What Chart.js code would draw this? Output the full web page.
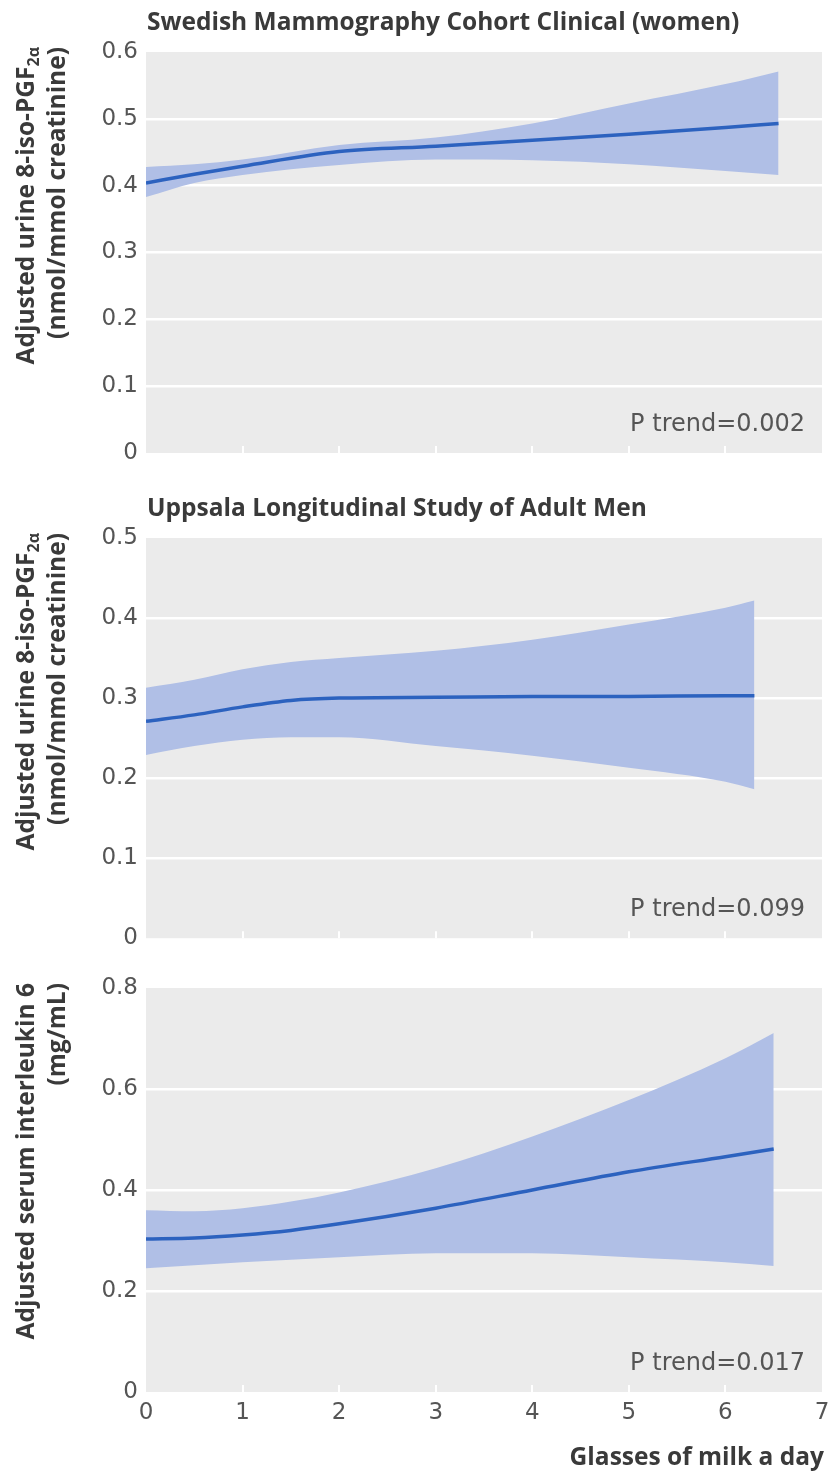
<!DOCTYPE html>
<html><head><meta charset="utf-8">
<script src="https://cdn.jsdelivr.net/npm/chart.js@4.4.1/dist/chart.umd.min.js"></script>
<style>
html,body{margin:0;padding:0;background:#fff;}
#wrap{position:relative;width:829px;height:1481px;overflow:hidden;}
canvas{position:absolute;left:0;}
</style></head><body>
<div id="wrap">
<canvas id="c1" width="829" height="480" style="top:0px"></canvas>
<canvas id="c2" width="829" height="480" style="top:480px"></canvas>
<canvas id="c3" width="829" height="521" style="top:960px"></canvas>
</div>
<script>
// ---- data ----
const xTickValues = [0, 1, 2, 3, 4, 5, 6, 7];
const xAxisTitle = "Glasses of milk a day";

// Panel 1: Swedish Mammography Cohort Clinical (women)
const smcTitle = "Swedish Mammography Cohort Clinical (women)";
const smcYTitle = ["Adjusted urine 8-iso-PGF", "2α", "(nmol/mmol creatinine)"];
const smcP = "P trend=0.002";
const smcX     = [0, 0.5, 1, 2, 3, 4, 5, 6, 6.55];
const smcFit   = [0.404, 0.417, 0.429, 0.451, 0.459, 0.468, 0.477, 0.487, 0.493];
const smcUpper = [0.428, 0.432, 0.439, 0.461, 0.472, 0.493, 0.523, 0.552, 0.571];
const smcLower = [0.383, 0.404, 0.416, 0.431, 0.439, 0.438, 0.432, 0.422, 0.416];

// Panel 2: Uppsala Longitudinal Study of Adult Men
const ulsamTitle = "Uppsala Longitudinal Study of Adult Men";
const ulsamYTitle = ["Adjusted urine 8-iso-PGF", "2α", "(nmol/mmol creatinine)"];
const ulsamP = "P trend=0.099";
const ulsamX     = [0, 0.5, 1, 1.5, 2, 3, 4, 5, 6, 6.3];
const ulsamFit   = [0.271, 0.279, 0.289, 0.297, 0.300, 0.301, 0.302, 0.302, 0.303, 0.303];
const ulsamUpper = [0.313, 0.323, 0.336, 0.345, 0.350, 0.359, 0.373, 0.392, 0.413, 0.422];
const ulsamLower = [0.229, 0.240, 0.248, 0.251, 0.251, 0.240, 0.228, 0.213, 0.1955, 0.186];

// Panel 3: interleukin 6
const il6YTitle = ["Adjusted serum interleukin 6", "", "(mg/mL)"];
const il6P = "P trend=0.017";
const il6X     = [0, 0.5, 1, 1.5, 2, 3, 4, 5, 6, 6.5];
const il6Fit   = [0.303, 0.305, 0.311, 0.320, 0.333, 0.364, 0.400, 0.436, 0.466, 0.481];
const il6Upper = [0.360, 0.358, 0.364, 0.377, 0.395, 0.443, 0.506, 0.578, 0.661, 0.711];
const il6Lower = [0.245, 0.251, 0.257, 0.262, 0.267, 0.275, 0.275, 0.267, 0.257, 0.2495];

// ---- styles ----
const BG = '#ebebeb';
const BAND = 'rgb(176,191,230)';
const LINE = '#2c62bf';
const TXT = '#3a3a3a';
const TICK = '#555555';
const TICK_FONT = '"DejaVu Sans", sans-serif';
const BOLD_FONT = '"Open Sans", "Noto Sans", sans-serif';

function pts(xs, ys) { return xs.map((x, i) => ({x: x, y: ys[i]})); }

const decorPlugin = {
  id: 'decor',
  beforeDraw(chart) {
    const a = chart.chartArea, ctx = chart.ctx;
    ctx.save();
    ctx.fillStyle = BG;
    ctx.fillRect(a.left, a.top, a.right - a.left, a.bottom - a.top);
    ctx.restore();
  },
  beforeDatasetsDraw(chart) {
    const a = chart.chartArea, ctx = chart.ctx, xs = chart.scales.x;
    ctx.save();
    ctx.strokeStyle = '#ffffff';
    ctx.lineWidth = 2;
    xTickValues.forEach(v => {
      if (v <= xs.min || v >= xs.max) return;
      const px = Math.round(xs.getPixelForValue(v));
      ctx.beginPath();
      ctx.moveTo(px, a.bottom);
      ctx.lineTo(px, a.bottom - 7);
      ctx.stroke();
    });
    ctx.restore();
  },
  afterDraw(chart) {
    const o = chart.options.plugins.decor;
    const a = chart.chartArea, ctx = chart.ctx;
    ctx.save();
    ctx.fillStyle = TXT;
    // panel title
    if (o.title) {
      ctx.font = 'bold 24.5px ' + BOLD_FONT;
      ctx.textAlign = 'left';
      ctx.textBaseline = 'alphabetic';
      ctx.fillText(o.title, a.left + 1, a.top - 22);
    }
    // y-axis title (rotated, top aligned)
    const yt = o.yTitle;
    ctx.save();
    ctx.translate(0, a.top - 5);
    ctx.rotate(-Math.PI / 2);
    ctx.textBaseline = 'alphabetic';
    ctx.textAlign = 'left';
    const mainF = 'bold 24.5px ' + BOLD_FONT, subF = 'bold 16px ' + BOLD_FONT;
    ctx.font = subF;
    const ws = yt[1] ? ctx.measureText(yt[1]).width : 0;
    ctx.font = mainF;
    const wm = ctx.measureText(yt[0]).width;
    ctx.fillText(yt[0], -(wm + ws), 34);
    if (yt[1]) { ctx.font = subF; ctx.fillText(yt[1], -ws, 39); }
    ctx.font = mainF;
    const w2 = ctx.measureText(yt[2]).width;
    ctx.fillText(yt[2], -w2, 65);
    ctx.restore();
    // P trend
    ctx.font = '24px ' + TICK_FONT;
    ctx.fillStyle = TICK;
    ctx.textAlign = 'right';
    ctx.fillText(o.p, a.right - 17, a.bottom - 22);
    // x axis title
    if (o.xTitle) {
      ctx.font = 'bold 24.5px ' + BOLD_FONT;
      ctx.fillStyle = TXT;
      ctx.textAlign = 'right';
      ctx.fillText(o.xTitle, a.right + 2, a.bottom + 73);
    }
    ctx.restore();
  }
};

function makeChart(id, cfg) {
  const ctx = document.getElementById(id).getContext('2d');
  return new Chart(ctx, {
    type: 'line',
    data: {
      datasets: [
        { data: pts(cfg.x, cfg.fit), borderColor: LINE, borderWidth: 3.5, pointRadius: 0,
          fill: false, cubicInterpolationMode: 'monotone' },
        { data: pts(cfg.x, cfg.upper), borderWidth: 0, borderColor: 'rgba(0,0,0,0)', pointRadius: 0,
          backgroundColor: BAND, fill: '+1', cubicInterpolationMode: 'monotone' },
        { data: pts(cfg.x, cfg.lower), borderWidth: 0, borderColor: 'rgba(0,0,0,0)', pointRadius: 0,
          fill: false, cubicInterpolationMode: 'monotone' }
      ]
    },
    options: {
      responsive: false,
      animation: false,
      devicePixelRatio: 1,
      layout: { padding: { left: 86, right: 7, top: cfg.padTop, bottom: cfg.padBottom } },
      plugins: {
        legend: { display: false },
        tooltip: { enabled: false },
        decor: { title: cfg.title, yTitle: cfg.yTitle, p: cfg.p, xTitle: cfg.xTitle }
      },
      scales: {
        x: {
          type: 'linear', min: 0, max: 7,
          display: cfg.showX,
          afterFit: s => { s.height = cfg.showX ? 40 : 0; s.paddingLeft = 0; s.paddingRight = 0; },
          ticks: { stepSize: 1, padding: 7, color: TICK, font: { family: TICK_FONT, size: 23 } },
          grid: { display: false, drawTicks: false },
          border: { display: false }
        },
        y: {
          min: 0, max: cfg.yMax,
          afterFit: s => { s.width = 60; },
          ticks: { stepSize: cfg.yStep, padding: 8, color: TICK, font: { family: TICK_FONT, size: 23 } },
          grid: {
            drawTicks: false, lineWidth: 2.5,
            color: c => (c.tick && (c.tick.value === 0 || Math.abs(c.tick.value - cfg.yMax) < 1e-9)) ? 'rgba(0,0,0,0)' : '#ffffff'
          },
          border: { display: false }
        }
      }
    },
    plugins: [decorPlugin]
  });
}

makeChart('c1', { x: smcX, fit: smcFit, upper: smcUpper, lower: smcLower, title: smcTitle,
  yTitle: smcYTitle, p: smcP, yMax: 0.6, yStep: 0.1, padTop: 52, padBottom: 27, showX: false });
makeChart('c2', { x: ulsamX, fit: ulsamFit, upper: ulsamUpper, lower: ulsamLower, title: ulsamTitle,
  yTitle: ulsamYTitle, p: ulsamP, yMax: 0.5, yStep: 0.1, padTop: 58, padBottom: 20, showX: false });
makeChart('c3', { x: il6X, fit: il6Fit, upper: il6Upper, lower: il6Lower, title: null, xTitle: xAxisTitle,
  yTitle: il6YTitle, p: il6P, yMax: 0.8, yStep: 0.2, padTop: 28, padBottom: 49, showX: true });
</script>
</body></html>
